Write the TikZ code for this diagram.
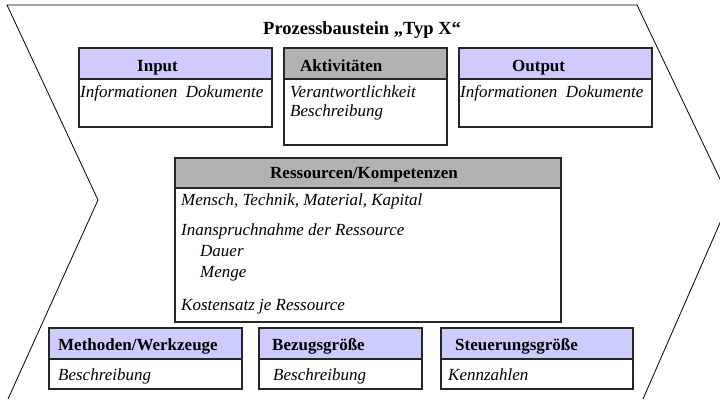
\documentclass[tikz,border=0pt]{standalone}
\usepackage{fontspec}
\setmainfont{Liberation Serif}
\definecolor{kopfblau}{RGB}{204,204,255}
\definecolor{kopfgrau}{RGB}{178,178,178}
\begin{document}
\begin{tikzpicture}[x=1pt,y=-1pt,
  kasten/.style={draw=black!85,line width=1.1pt},
  kopftext/.style={anchor=base west,inner sep=0pt,font=\fontsize{17}{20}\selectfont\bfseries},
  rumpftext/.style={anchor=base west,inner sep=0pt,font=\fontsize{17}{20}\selectfont\itshape}]
\useasboundingbox (0,0) rectangle (720,399);
\clip (0,0) rectangle (720,399);
% Pfeilform
\draw[line width=0.8pt] (8,399) -- (98,200) -- (7,5) -- (637,5) -- (730,200) -- (643,399);
\node at (263,34) [anchor=base west,inner sep=0pt,font=\fontsize{18.5}{22}\selectfont\bfseries] (titel) {Prozessbaustein „Typ X“};
% obere Reihe
\filldraw[kasten,fill=kopfblau] (79,48) rectangle (272,79);
\draw[kasten] (79,79) rectangle (272,127);
\filldraw[kasten,fill=kopfgrau] (284,48) rectangle (447,79);
\draw[kasten] (284,79) rectangle (447,145);
\filldraw[kasten,fill=kopfblau] (459,48) rectangle (652,79);
\draw[kasten] (459,79) rectangle (652,127);
\node at (137,71) [kopftext] (input) {Input};
\node at (80,97) [rumpftext] (inputinfo) {Informationen\ \ Dokumente};
\node at (300,71) [kopftext] (akt) {Aktivitäten};
\node at (290,97) [rumpftext] (aktverant) {Verantwortlichkeit};
\node at (290,116) [rumpftext] (aktbeschr) {Beschreibung};
\node at (512,71) [kopftext] (output) {Output};
\node at (460,97) [rumpftext] (outputinfo) {Informationen\ \ Dokumente};
% Ressourcen
\filldraw[kasten,fill=kopfgrau] (175,158) rectangle (561,188);
\draw[kasten] (175,188) rectangle (561,322);
\node at (270,178) [kopftext] (res) {Ressourcen/Kompetenzen};
\node at (181,205) [rumpftext] (resmensch) {Mensch, Technik, Material, Kapital};
\node at (181,235) [rumpftext] (resinan) {Inanspruchnahme der Ressource};
\node at (200,256) [rumpftext] (resdauer) {Dauer};
\node at (200,277) [rumpftext] (resmenge) {Menge};
\node at (181,310) [rumpftext] (reskosten) {Kostensatz je Ressource};
% untere Reihe
\filldraw[kasten,fill=kopfblau] (49,328) rectangle (242,359);
\draw[kasten] (49,359) rectangle (242,389);
\filldraw[kasten,fill=kopfblau] (259,328) rectangle (422,359);
\draw[kasten] (259,359) rectangle (422,389);
\filldraw[kasten,fill=kopfblau] (441,328) rectangle (633,359);
\draw[kasten] (441,359) rectangle (633,389);
\node at (58,350) [kopftext] (meth) {Methoden/Werkzeuge};
\node at (58,380) [rumpftext] (methbeschr) {Beschreibung};
\node at (272,350) [kopftext] (bezug) {Bezugsgröße};
\node at (273,380) [rumpftext] (bezugbeschr) {Beschreibung};
\node at (455,350) [kopftext] (steuer) {Steuerungsgröße};
\node at (448,380) [rumpftext] (steuerkenn) {Kennzahlen};
\end{tikzpicture}
\end{document}
